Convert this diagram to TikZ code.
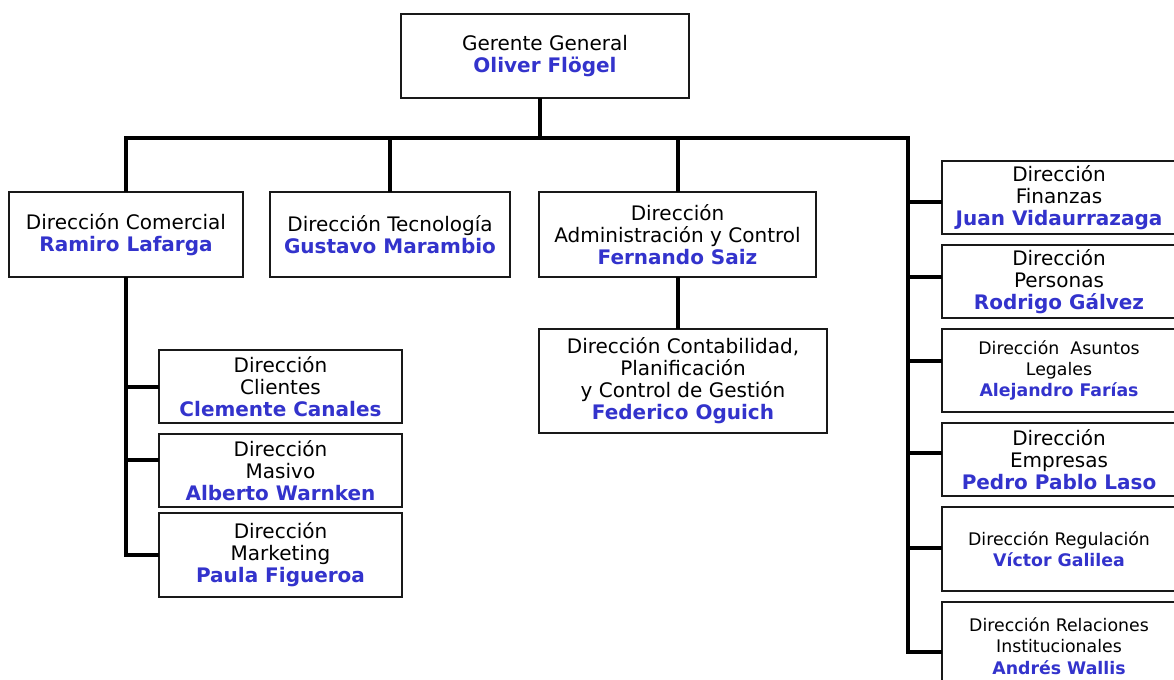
\documentclass[tikz,border=0pt]{standalone}
\usepackage{fontspec}
\setmainfont{DejaVu Sans}
\definecolor{nmblue}{RGB}{51,51,204}
\definecolor{boxline}{RGB}{25,25,25}
\newcommand\pname[1]{{\bfseries\color{nmblue}#1}}
\newcommand\bx[7][]{\node[box,#1,minimum width={(#5-#3)*0.75pt},minimum height={(#6-#4)*0.75pt}] (#2) at (#3,#4) {#7};}
\begin{document}
\begin{tikzpicture}[x=0.75pt,y=-0.75pt,
  box/.style={draw=boxline,line width=1.2pt,fill=white,inner sep=0pt,outer sep=0pt,
    align=center,anchor=north west,font=\fontsize{15}{16.5}\selectfont},
  smalltext/.style={font=\fontsize{13}{16}\selectfont},
  conn/.style={line width=3pt,line join=miter,draw=black}]
\useasboundingbox (0,0) rectangle (1174,679);
% boxes
\bx{gg}{401}{14}{689}{98}{Gerente General\\\pname{Oliver Flögel}}
\bx{com}{9}{192}{243}{277}{Dirección Comercial\\\pname{Ramiro Lafarga}}
\bx{tec}{270}{192}{510}{277}{Dirección Tecnología\\\pname{Gustavo Marambio}}
\bx{adm}{539}{192}{816}{277}{Dirección\\Administración y Control\\\pname{Fernando Saiz}}
\bx{con}{539}{329}{827}{433}{Dirección Contabilidad,\\Planificación\\y Control de Gestión\hspace*{12pt}\\\pname{Federico Oguich}}
\bx{cli}{159}{350}{402}{423}{Dirección\\Clientes\\\pname{Clemente Canales}}
\bx{mas}{159}{434}{402}{507}{Dirección\\Masivo\\\pname{Alberto Warnken}}
\bx{mkt}{159}{513}{402}{597}{Dirección\\Marketing\\\pname{Paula Figueroa}}
\bx{fin}{942}{161}{1176}{234}{Dirección\\Finanzas\\\pname{Juan Vidaurrazaga}}
\bx{per}{942}{245}{1176}{318}{Dirección\\Personas\\\pname{Rodrigo Gálvez}}
\bx[smalltext]{leg}{942}{329}{1176}{412}{Dirección\ \ Asuntos\\Legales\\\pname{Alejandro Farías}}
\bx{emp}{942}{423}{1176}{496}{Dirección\\Empresas\\\pname{Pedro Pablo Laso}}
\bx[smalltext]{reg}{942}{507}{1176}{591}{Dirección Regulación\\\pname{Víctor Galilea}}
\bx[smalltext]{rel}{942}{602}{1176}{690}{Dirección Relaciones\\Institucionales\\\pname{Andrés Wallis}}
% connectors
\coordinate (bus) at (908,138);
\coordinate (spineEnd) at (908,652);
\draw[conn] ([xshift=-3.75pt]gg.south) -- ([xshift=-3.75pt]gg.south |- bus);
\draw[conn] (com.north) |- (bus) -- (spineEnd) -- (spineEnd -| rel.west);
\draw[conn] (tec.north) -- (tec.north |- bus);
\draw[conn] (adm.north) -- (adm.north |- bus);
\draw[conn] (adm.south) -- (adm.south |- con.north);
\foreach \n/\yy in {fin/202,per/277,leg/361,emp/453,reg/548}{
  \coordinate (s\n) at (908,\yy);
  \draw[conn] (s\n) -- (s\n -| \n.west);
}
\coordinate (lmas) at (126,460);
\draw[conn] (com.south) |- (mkt.west);
\draw[conn] (com.south |- cli.west) -- (cli.west);
\draw[conn] (lmas) -- (lmas -| mas.west);
\end{tikzpicture}
\end{document}
